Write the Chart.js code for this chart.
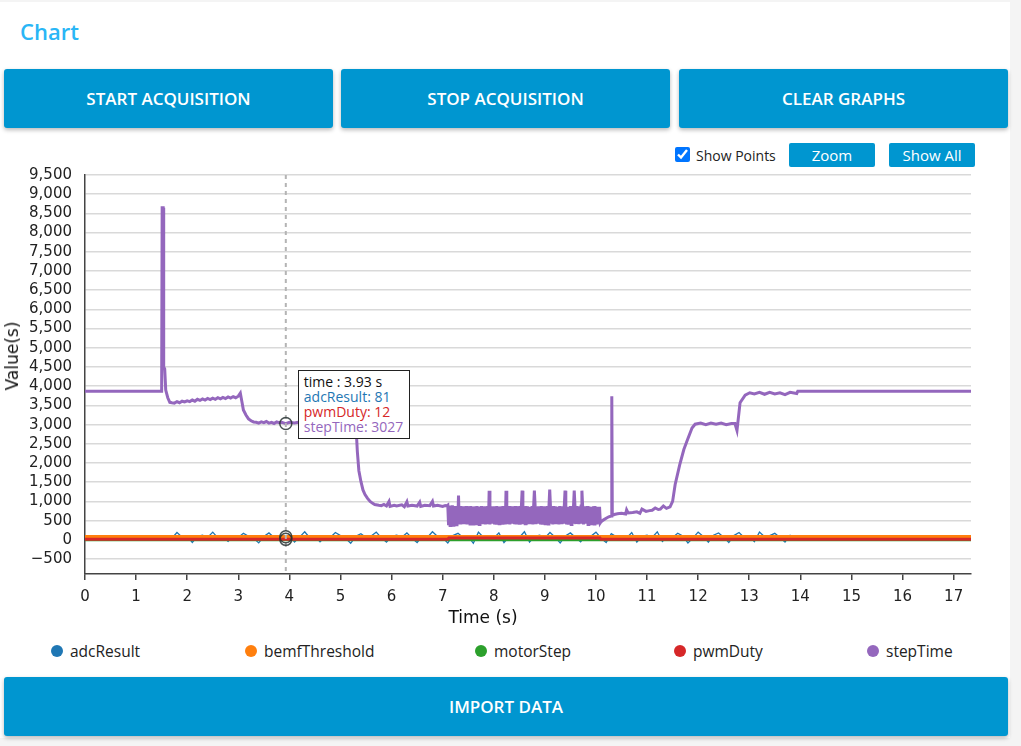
<!DOCTYPE html>
<html><head><meta charset="utf-8">
<script src="https://cdn.jsdelivr.net/npm/chart.js@4.4.1/dist/chart.umd.min.js"></script>
<style>
html,body{margin:0;padding:0;}
body{width:1021px;height:746px;background:#f4f4f4;position:relative;overflow:hidden;font-family:'Open Sans','Noto Sans',sans-serif;}
#card{position:absolute;left:0;top:2px;width:1010px;height:736px;background:#fff;}
#title{position:absolute;left:20px;top:16px;line-height:30px;font-size:22px;font-weight:600;color:#29b6f6;}
.btn{position:absolute;background:#0096d0;color:#fff;font-weight:600;font-size:17px;display:flex;align-items:center;justify-content:center;border-radius:3px;box-shadow:0 2px 4px rgba(0,0,0,.28);}
.sbtn{position:absolute;top:143px;width:86px;height:24px;background:#0096d0;color:#fff;font-size:15px;display:flex;align-items:center;justify-content:center;border-radius:2px;}
#chk{position:absolute;left:675px;top:147px;width:15px;height:15px;margin:0;}
#chkl{position:absolute;left:696px;top:146px;line-height:20px;font-size:14px;color:#222;}
#wrap{position:absolute;left:0;top:165px;width:1010px;height:470px;}
#ytitle{position:absolute;left:12px;top:356px;transform:translate(-50%,-50%) rotate(-90deg);font-family:'DejaVu Sans';font-size:17px;color:#111;white-space:nowrap;}
#xtitle{position:absolute;left:483px;top:617px;transform:translate(-50%,-50%);font-family:'DejaVu Sans';font-size:17px;color:#111;white-space:nowrap;}
.leg{position:absolute;top:641px;height:20px;line-height:20px;font-size:15.5px;color:#222;white-space:nowrap;}
.leg i{position:absolute;left:-19px;top:4px;width:12px;height:12px;border-radius:50%;}
#tip{position:absolute;background:#fff;border:1px solid #222;padding:3px 6px 4px 5px;font-size:14px;line-height:15px;white-space:nowrap;}
</style>
</head><body>
<div id="card"></div>
<div id="title">Chart</div>
<div class="btn" style="left:4px;top:69px;width:329px;height:59px;">START ACQUISITION</div>
<div class="btn" style="left:341px;top:69px;width:329px;height:59px;">STOP ACQUISITION</div>
<div class="btn" style="left:679px;top:69px;width:329px;height:59px;">CLEAR GRAPHS</div>
<input type="checkbox" id="chk" checked>
<div id="chkl">Show Points</div>
<div class="sbtn" style="left:789px;">Zoom</div>
<div class="sbtn" style="left:889px;">Show All</div>
<div id="wrap"><canvas id="c" width="1010" height="470"></canvas></div>
<div id="ytitle">Value(s)</div>
<div id="xtitle">Time (s)</div>
<div id="legend"></div>
<div id="tip"></div>
<div class="btn" style="left:4px;top:677px;width:1004px;height:59px;">IMPORT DATA</div>
<script>
// ---------- DATA ----------
const seriesNames = ['adcResult','bemfThreshold','motorStep','pwmDuty','stepTime'];
const seriesColors = ['#1f77b4','#ff7f0e','#2ca02c','#d62728','#9467bd'];

const stepTimeT = [
0,1.50,1.51,1.53,1.54,1.56,1.58,1.62,1.66,1.70,
1.75,1.80,1.85,1.90,1.95,2.00,2.05,2.10,2.15,2.20,
2.25,2.30,2.35,2.40,2.45,2.50,2.55,2.60,2.65,2.70,
2.75,2.80,2.85,2.90,2.95,3.00,3.04,3.07,3.10,3.15,
3.20,3.25,3.30,3.35,3.40,3.45,3.50,3.55,3.60,3.65,
3.70,3.75,3.80,3.85,3.90,3.93,4.00,4.10,4.20,4.30,
4.40,4.50,4.60,4.70,4.80,4.90,5.00,5.10,5.20,5.30,
5.33,5.36,5.40,5.44,5.48,5.53,5.58,5.63,5.67,5.75,
5.80,5.85,5.90,5.95,5.97,6.05,6.10,6.20,6.25,6.30,
6.32,6.40,6.50,6.55,6.57,6.65,6.75,6.80,6.82,6.90,
7.00,7.05,7.08,
7.100,7.115,7.130,7.145,7.160,7.175,7.190,7.205,7.220,7.235,
7.250,7.265,7.280,7.295,7.310,7.325,7.340,7.355,7.370,7.385,
7.400,7.415,7.430,7.445,7.460,7.475,7.490,7.505,7.520,7.535,
7.550,7.565,7.580,7.595,7.610,7.625,7.640,7.655,7.670,7.685,
7.700,7.715,7.730,7.745,7.760,7.775,7.790,7.805,7.820,7.835,
7.850,7.865,7.880,7.895,7.910,7.925,7.940,7.955,7.970,7.985,
8.000,8.015,8.030,8.045,8.060,8.075,8.090,8.105,8.120,8.135,
8.150,8.165,8.180,8.195,8.210,8.225,8.240,8.255,8.270,8.285,
8.300,8.315,8.330,8.345,8.360,8.375,8.390,8.405,8.420,8.435,
8.450,8.465,8.480,8.495,8.510,8.525,8.540,8.555,8.570,8.585,
8.600,8.615,8.630,8.645,8.660,8.675,8.690,8.705,8.720,8.735,
8.750,8.765,8.780,8.795,8.810,8.825,8.840,8.855,8.870,8.885,
8.900,8.915,8.930,8.945,8.960,8.975,8.990,9.005,9.020,9.035,
9.050,9.065,9.080,9.095,9.110,9.125,9.140,9.155,9.170,9.185,
9.200,9.215,9.230,9.245,9.260,9.275,9.290,9.305,9.320,9.335,
9.350,9.365,9.380,9.395,9.410,9.425,9.440,9.455,9.470,9.485,
9.500,9.515,9.530,9.545,9.560,9.575,9.590,9.605,9.620,9.635,
9.650,9.665,9.680,9.695,9.710,9.725,9.740,9.755,9.770,9.785,
9.800,9.815,9.830,9.845,9.860,9.875,9.890,9.905,9.920,9.935,
9.950,9.965,9.980,9.995,10.010,10.025,10.040,10.055,10.070,10.085,
10.10,10.15,10.20,10.25,10.30,10.31,10.32,10.36,10.42,10.50,
10.58,10.60,10.63,10.72,10.80,10.86,10.90,10.98,11.05,11.10,
11.16,11.22,11.26,11.32,11.38,11.45,11.50,11.55,11.64,11.72,
11.78,11.88,11.94,12.05,12.15,12.25,12.35,12.45,12.55,12.65,
12.72,12.76,12.82,12.92,13.01,13.10,13.20,13.30,13.40,13.50,
13.60,13.70,13.80,13.93,13.95,17.34];
const stepTimeV = [
3870,3870,8650,8650,4500,4450,3900,3700,3580,3570,
3560,3600,3570,3610,3590,3620,3600,3640,3610,3660,
3630,3670,3640,3680,3650,3690,3660,3700,3670,3710,
3680,3720,3690,3730,3700,3740,3820,3600,3380,3250,
3150,3100,3070,3060,3040,3070,3050,3080,3040,3060,
3030,3070,3050,3060,3040,3027,3060,3040,3070,3050,
3060,3040,3070,3050,3060,3040,3070,3050,3060,3050,
2300,1800,1520,1300,1180,1080,1000,950,920,900,
890,920,880,1000,870,900,880,910,860,990,
880,900,880,980,870,900,890,1000,880,900,
870,890,880,
900,380,890,370,880,390,900,380,870,400,
880,390,870,400,1150,410,880,400,860,420,
870,410,860,430,880,400,870,420,860,410,
880,430,850,410,870,400,860,420,880,430,
860,400,870,420,880,410,850,430,870,400,
860,420,880,410,1280,400,870,430,850,420,
870,400,860,430,880,410,850,420,870,400,
860,430,880,410,870,400,1280,420,860,410,
880,400,850,430,870,420,860,410,880,400,
870,420,860,430,880,400,850,1280,870,410,
860,420,880,400,870,430,850,410,860,420,
880,400,870,1280,860,410,850,430,870,420,
860,400,880,430,850,410,870,420,860,400,
880,410,870,1310,860,420,850,400,880,430,
870,410,860,430,850,400,880,420,870,410,
860,420,880,1280,870,400,850,430,860,410,
880,400,870,420,860,1280,850,410,880,430,
870,410,860,420,880,1280,850,400,870,420,
860,430,880,400,870,410,850,420,860,430,
870,410,880,420,860,400,850,430,860,440,
470,520,560,600,620,3740,640,660,680,690,
670,780,700,710,730,690,800,740,760,770,
830,790,800,880,820,860,1000,1440,1960,2350,
2565,2910,3010,3040,3000,3040,3010,3040,3000,3030,
3030,2850,3570,3770,3830,3800,3840,3790,3840,3800,
3830,3780,3840,3810,3870,3870];

const adcResultT = [0,1.4,
1.5,1.6,1.7,1.8,1.9,2.0,2.1,2.2,2.3,2.4,
2.5,2.6,2.7,2.8,2.9,3.0,3.1,3.2,3.3,3.4,
3.5,3.6,3.7,3.8,3.93,4.0,4.1,4.2,4.3,4.4,
4.5,4.6,4.7,4.8,4.9,5.0,5.1,5.2,5.3,5.4,
5.5,5.6,5.7,5.8,5.9,6.0,6.1,6.2,6.3,6.4,
6.5,6.6,6.7,6.8,6.9,7.0,7.1,7.2,7.3,7.4,
7.5,7.6,7.7,7.8,7.9,8.0,8.1,8.2,8.3,8.4,
8.5,8.6,8.7,8.8,8.9,9.0,9.1,9.2,9.3,9.4,
9.5,9.6,9.7,9.8,9.9,10.0,10.1,10.2,10.3,10.4,
10.5,10.6,10.7,10.8,10.9,11.0,11.1,11.2,11.3,11.4,
11.5,11.6,11.7,11.8,11.9,12.0,12.1,12.2,12.3,12.4,
12.5,12.6,12.7,12.8,12.9,13.0,13.1,13.2,13.3,13.4,
13.5,13.6,13.7,13.8,13.9,
14.0,17.34];
const adcResultV = [60,60,
60,110,40,190,70,100,-70,90,120,60,
200,50,80,-40,100,60,170,90,40,-80,
90,180,60,100,81,120,-60,70,210,50,
100,-50,80,60,190,110,40,-90,90,160,
60,100,200,50,-60,90,120,70,180,40,
-70,100,60,210,90,50,-80,110,170,60,
90,-90,200,60,100,40,180,-70,80,110,
60,210,-60,90,120,50,190,70,-80,100,
180,60,-50,110,90,200,40,-70,160,80,
100,50,190,-60,90,120,60,210,-40,80,
60,170,100,-80,50,200,90,-60,120,180,
70,-70,110,190,60,90,-50,200,80,110,
170,60,-60,120,60,
60,60];

const bemfThresholdT = [0,17.34];
const bemfThresholdV = [85,85];
const motorStepT = [0,17.34];
const motorStepV = [3,3];
const pwmDutyT = [0,5.30,5.32,7.10,7.12,10.08,10.10,17.34];
const pwmDutyV = [12,12,15,15,45,45,12,12];

const yTicks = [-500,0,500,1000,1500,2000,2500,3000,3500,4000,4500,5000,5500,6000,6500,7000,7500,8000,8500,9000,9500];
const xTicks = [0,1,2,3,4,5,6,7,8,9,10,11,12,13,14,15,16,17];

const hoverTime = 3.93;
const hoverNames = ['adcResult','pwmDuty','stepTime'];
const hoverValues = [81,12,3027];

// ---------- BUILD ----------
const zip = (t,v) => t.map((x,i)=>({x:x,y:v[i]}));
const seriesData = [
  zip(adcResultT,adcResultV),
  zip(bemfThresholdT,bemfThresholdV),
  zip(motorStepT,motorStepV),
  zip(pwmDutyT,pwmDutyV),
  zip(stepTimeT,stepTimeV)
];
const widths = [1.3,3,3,3,3];
const orders = [5,4,3,2,1];
const datasets = seriesNames.map((n,i)=>({
  label:n, data:seriesData[i], borderColor:seriesColors[i], backgroundColor:seriesColors[i],
  borderWidth:widths[i], pointRadius:0, pointHoverRadius:0, tension:0, fill:false, order:orders[i]
}));

const tickFont = {family:'DejaVu Sans', size:15};

const hoverPlugin = {
  id:'hover',
  afterDatasetsDraw(chart){
    const ctx = chart.ctx, xs = chart.scales.x, ys = chart.scales.y, a = chart.chartArea;
    const px = xs.getPixelForValue(hoverTime);
    ctx.save();
    ctx.strokeStyle = '#b4b4b4'; ctx.lineWidth = 2; ctx.setLineDash([4,4]);
    ctx.beginPath(); ctx.moveTo(px,a.top); ctx.lineTo(px,a.bottom); ctx.stroke();
    ctx.setLineDash([]);
    ctx.strokeStyle = 'rgba(40,50,50,0.85)'; ctx.lineWidth = 1.5;
    hoverValues.forEach(v=>{
      ctx.beginPath(); ctx.arc(px, ys.getPixelForValue(v), 6, 0, Math.PI*2); ctx.stroke();
    });
    ctx.restore();
  },
  afterRender(chart){
    const xs = chart.scales.x, ys = chart.scales.y;
    const px = xs.getPixelForValue(hoverTime);
    const py = ys.getPixelForValue(hoverValues[2]);
    const tip = document.getElementById('tip');
    let html = '<div style="color:#111">time : '+hoverTime+' s</div>';
    hoverNames.forEach((n,i)=>{
      const c = seriesColors[seriesNames.indexOf(n)];
      html += '<div style="color:'+c+'">'+n+': '+hoverValues[i]+'</div>';
    });
    tip.innerHTML = html;
    tip.style.left = (px + 12) + 'px';
    tip.style.top = (165 + py - 54) + 'px';
  }
};

new Chart(document.getElementById('c'), {
  type:'line',
  data:{datasets:datasets},
  options:{
    responsive:false, animation:false, events:[],
    layout:{padding:{left:0,top:10,right:39,bottom:0}},
    plugins:{legend:{display:false}, tooltip:{enabled:false}},
    scales:{
      x:{type:'linear', min:0, max:17.34,
        afterBuildTicks:s=>{ s.ticks = xTicks.map(v=>({value:v})); },
        afterFit:s=>{ s.height = 61; },
        ticks:{font:tickFont, color:'#222', padding:8, maxRotation:0, autoSkip:false, callback:v=>String(v)},
        grid:{display:true, drawOnChartArea:false, drawTicks:true, tickLength:6, color:'#444', lineWidth:1.5},
        border:{display:true, color:'#444', width:1.5}
      },
      y:{type:'linear', min:-890, max:9500,
        afterBuildTicks:s=>{ s.ticks = yTicks.map(v=>({value:v})); },
        afterFit:s=>{ s.width = 85; },
        ticks:{font:tickFont, color:'#222', padding:0, autoSkip:false,
          callback:v=>{ const s = Math.abs(v).toString().replace(/\B(?=(\d{3})+(?!\d))/g, ','); return v<0 ? '\u2212'+s : s; }},
        grid:{color:'#d9d9d9', lineWidth:1.5, drawTicks:true, tickLength:13, tickColor:'rgba(0,0,0,0)'},
        border:{display:true, color:'#444', width:1.5}
      }
    }
  },
  plugins:[hoverPlugin]
});

// legend (HTML)
const legendX = [70,264,494,693,886];
const lg = document.getElementById('legend');
seriesNames.forEach((n,i)=>{
  const d = document.createElement('div');
  d.className = 'leg'; d.style.left = legendX[i]+'px';
  d.innerHTML = '<i style="background:'+seriesColors[i]+'"></i>'+n;
  lg.appendChild(d);
});
</script>
</body></html>
